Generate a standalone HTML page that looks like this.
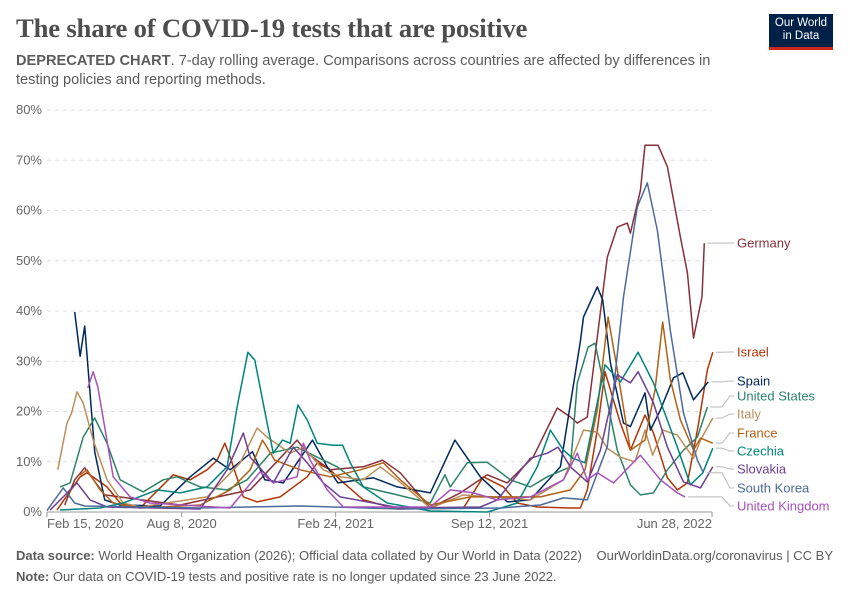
<!DOCTYPE html>
<html><head><meta charset="utf-8">
<style>
body{margin:0;width:850px;height:600px;background:#fff;font-family:"Liberation Sans",sans-serif;position:relative;overflow:hidden}
.title{position:absolute;left:16px;top:13px;font-family:"Liberation Serif",serif;font-size:26.7px;color:#4e4e4e;font-weight:bold;letter-spacing:-0.2px}
.sub{position:absolute;left:16px;top:52px;width:720px;font-size:14.6px;line-height:19px;color:#5b5b5b}
.logo{position:absolute;left:769px;top:14px;width:64px;height:36px;background:#002147;border-bottom:3px solid #ce261e;color:#fff;font-size:11.5px;line-height:13px;text-align:center;padding-top:3px;box-sizing:border-box}
.foot{position:absolute;left:16px;font-size:13px;color:#5b5b5b}
</style></head><body>
<div class="title">The share of COVID-19 tests that are positive</div>
<div class="sub"><b>DEPRECATED CHART</b>. 7-day rolling average. Comparisons across countries are affected by differences in<br>testing policies and reporting methods.</div>
<div class="logo">Our World<br>in Data</div>
<svg id="chart" width="850" height="600" style="position:absolute;left:0;top:0"></svg>
<div class="foot" style="top:548px"><b>Data source:</b> World Health Organization (2026); Official data collated by Our World in Data (2022)</div>
<div class="foot" style="top:548px;left:auto;right:17px">OurWorldinData.org/coronavirus | CC BY</div>
<div class="foot" style="top:569px"><b>Note:</b> Our data on COVID-19 tests and positive rate is no longer updated since 23 June 2022.</div>
<script>
const yTicks=[0,10,20,30,40,50,60,70,80];
const xTickLabels=["Feb 15, 2020","Aug 8, 2020","Feb 24, 2021","Sep 12, 2021","Jun 28, 2022"];
const xTickDays=[0,175,375,575,864];
const seriesNames=["Germany","Israel","Spain","United States","Italy","France","Czechia","Slovakia","South Korea","United Kingdom"];
const seriesColors=["#883039","#b13507","#00295b","#2c8465","#bc8e5a","#b16214","#00847e","#6d3e91","#4c6a9c","#a652ba"];
const labelY=[243,352,381,396,414,433,451,469,488,506];
const germanyDays=[23,36,49,75,173,264,325,338,368,411,436,459,498,537,572,598,632,663,680,689,702,728,741,754,758,771,777,794,806,823,832,840,851,854];
const germanyVals=[1.4,6.4,8.8,3.4,1.4,4.4,14.3,11.7,8.4,9,10.3,7.8,0.8,3.8,7.4,5.8,11,20.7,18.9,17.7,18.9,50.7,56.7,57.5,55.5,64,73,73,68.7,54.7,47.6,34.6,42.8,53.5];
const israelDays=[13,43,52,78,95,121,164,186,208,221,231,238,255,273,303,338,351,368,381,411,455,541,567,593,611,637,680,693,702,715,725,745,758,777,788,806,819,832,845,858,865];
const israelVals=[0.4,7,7.8,5,1.8,0.8,7.4,6.4,8.4,10.3,13.7,10.9,3,2,3,7,9.8,8.4,6.4,2.4,0.6,0.8,7,5,1.8,1,0.8,0.8,4.4,16.3,27.9,17.7,12.3,19.3,15.7,6.8,4.4,5.8,16.3,28.3,31.8];
const spainDays=[36,43,49,62,75,95,147,186,216,238,267,283,307,345,364,378,424,455,498,530,563,598,628,667,693,697,715,722,732,749,758,777,784,797,814,826,840,859];
const spainVals=[39.8,31,37,12,2.4,1.4,1.2,7,10.7,8.4,12,6.4,5.8,14.3,9,5.8,6.8,5,3.8,14.3,7,2,2.4,9,34,38.8,44.8,42.2,29.7,17.7,17,23.7,16.3,20.3,26.7,27.7,22.3,25.9];
const usDays=[17,30,47,62,78,95,125,151,169,199,234,260,290,325,351,377,411,455,498,517,524,546,572,602,628,650,680,689,703,712,723,741,758,771,788,806,827,845,858];
const usVals=[5,5.8,14.9,18.7,13.7,6.4,4,6.4,7,5,4.4,6.4,11.7,12.9,10.9,9,5,3.4,1.8,7.4,5,9.8,9.9,6.4,5,7,9,25.7,32.8,33.6,25.7,12.3,5.4,3.4,3.8,8.4,12.3,14.9,20.9];
const italyDays=[14,26,32,39,47,60,78,99,121,208,251,273,286,316,333,359,381,411,433,455,498,541,576,628,671,697,715,728,745,764,777,787,800,819,840,849,865];
const italyVals=[8.4,17.7,19.7,23.9,21.7,14.3,6.4,1.8,1,3,9.8,16.7,14.9,11.7,12.9,8.4,7,6.4,9,6.4,0.8,3.4,3,2.4,6.4,16.3,15.9,12.7,10.9,10,16.3,11.3,16.3,15.3,10.7,14.3,18.7];
const franceDays=[43,52,69,86,121,199,238,264,280,296,329,368,407,437,459,498,550,589,641,680,699,715,729,741,758,777,790,800,810,823,840,849,865];
const franceVals=[7.4,8.4,4.4,1.8,0.8,1.4,4.4,8.4,14.3,10.3,8.4,7,8.4,9.8,6.4,1.4,3,3,3,4.4,8.4,20.3,38.8,28.3,12.3,14.3,24.3,37.8,26.3,18.3,12.3,14.7,13.7];
const czechiaDays=[17,69,99,143,173,208,234,247,261,270,286,294,306,316,326,338,351,372,384,394,411,442,498,572,611,637,654,671,683,699,725,745,768,788,819,836,852,865];
const czechiaVals=[0.4,0.8,1.8,4.4,3.8,5,9,20.9,31.8,30.2,17.7,11.7,14.3,13.7,21.3,18.3,13.7,13.3,13.3,9.8,5,1.8,0.2,0,1.8,9,16.3,12.3,10.7,9.8,29.3,25.9,31.8,25.7,12.9,5.4,7.8,12.7];
const slovakiaDays=[4,21,39,56,78,199,234,255,264,294,320,338,359,381,459,563,585,628,650,664,680,702,719,741,758,768,788,806,827,849,865];
const slovakiaVals=[0.4,3,5.8,2.4,1,0.6,8.4,15.7,10.9,5.8,12.9,9.8,5.8,3,0.8,1,2.4,10.7,11.7,12.9,9,6,12.3,27.3,25.7,27.9,21.7,12.9,6,4.8,9];
const koreaDays=[0,21,36,49,199,329,459,589,641,671,702,728,749,767,780,793,810,827,845,853];
const koreaVals=[0.3,4.8,1.8,1.2,0.8,1.2,0.6,0.8,1.4,2.8,2.4,13,42.8,60.7,65.5,56,36,19.7,10.3,7.8];
const ukDays=[53,60,66,75,86,108,134,238,277,294,325,333,342,364,385,498,524,554,585,628,671,689,702,715,736,771,797,819,829];
const ukVals=[24.7,27.9,24.9,16.9,7,3,1.8,0.8,8,5.8,7,13.7,10.3,4.4,1,1,4.4,3.8,2.4,3,6.4,11.7,6.4,7.8,5.8,11.3,6.4,3.8,3];
const allDays=[germanyDays,israelDays,spainDays,usDays,italyDays,franceDays,czechiaDays,slovakiaDays,koreaDays,ukDays];
const allVals=[germanyVals,israelVals,spainVals,usVals,italyVals,franceVals,czechiaVals,slovakiaVals,koreaVals,ukVals];

const X0=47,X1=712,Y0=512,Y1=110;
const xS=d=>X0+d*(X1-X0)/864;
const yS=v=>Y0-v*(Y0-Y1)/80;
const svg=document.getElementById('chart');
const NS='http://www.w3.org/2000/svg';
function mk(t,a){const e=document.createElementNS(NS,t);for(const k in a)e.setAttribute(k,a[k]);svg.appendChild(e);return e;}
yTicks.forEach(v=>{
  const y=yS(v);
  if(v>0){const l=mk('line',{x1:X0,x2:X1,y1:y,y2:y,stroke:'#ddd','stroke-dasharray':'4,4'});
  
  }
  const t=mk('text',{x:42,y:y+4,'text-anchor':'end','font-size':13,fill:'#666','font-family':'Liberation Sans, sans-serif'});
  t.textContent=v+'%';
  
  
});
const ax=mk('line',{x1:X0,x2:X1,y1:Y0,y2:Y0,stroke:'#999'});


xTickDays.forEach((d,i)=>{
  const x=xS(d);
  const tk=mk('line',{x1:x,x2:x,y1:Y0,y2:Y0+5,stroke:'#999'});
  
  
  const anchor=i==0?'start':(i==xTickDays.length-1?'end':'middle');
  const t=mk('text',{x:x,y:528,'text-anchor':anchor,'font-size':13,fill:'#666','font-family':'Liberation Sans, sans-serif'});
  t.textContent=xTickLabels[i];
  
  
});
allDays.forEach((days,i)=>{
  const vals=allVals[i];
  const d=days.map((dd,j)=>(j?'L':'M')+xS(dd).toFixed(1)+','+yS(vals[j]).toFixed(1)).join('');
  const p=mk('path',{d:d,fill:'none',stroke:seriesColors[i],'stroke-width':1.5,'stroke-linejoin':'round'});
  
  
  const ex=xS(days[days.length-1]),ey=yS(vals[vals.length-1]);
  const c=mk('path',{d:`M${ex+3},${ey}L${722},${ey}L${730},${labelY[i]}L${734},${labelY[i]}`,fill:'none',stroke:'#bbb','stroke-width':1});
  
  
  const t=mk('text',{x:737,y:labelY[i]+4.5,'font-size':13,fill:seriesColors[i],'font-family':'Liberation Sans, sans-serif'});
  t.textContent=seriesNames[i];
  
  
});
</script>
</body></html>
